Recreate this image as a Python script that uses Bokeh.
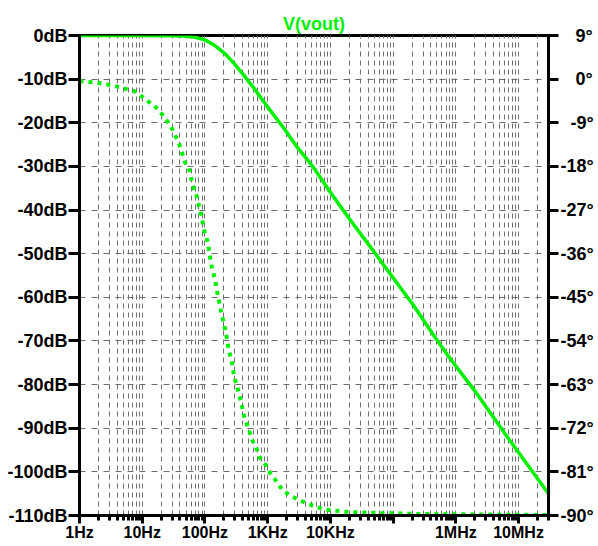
from bokeh.plotting import figure
from bokeh.models import Range1d, LinearAxis, FixedTicker, CustomJSTickFormatter
from bokeh.embed import file_html
from bokeh.resources import INLINE

# ---- data ----
freq_mag = [1, 10, 30, 50, 70, 100, 140, 180, 220, 290, 400, 600, 1000, 1800, 3000,
            5100, 11400, 21000, 43700, 63000, 215000, 447000, 826000, 1430000,
            1950000, 6620000, 30000000]
mag_db = [0, 0, -0.05, -0.15, -0.4, -1.0, -2.2, -3.4, -4.5, -6.4, -8.8, -12.0, -16.4,
          -21.2, -25.7, -29.8, -37.1, -42.4, -48.5, -51.6, -62.0, -68.8, -74.2,
          -78.7, -81.2, -92.0, -105.0]

freq_ph = [1, 1.46, 2.03, 2.76, 3.89, 5.4, 7.5, 10.2, 13.6, 18, 22, 28.3, 33, 38.4,
           43.4, 47.8, 56.8, 61, 66.5, 75.3, 80, 88.3, 92.7, 99.8, 111, 117, 123,
           131, 144, 151, 162, 173, 184, 200, 215, 227, 241, 262, 279, 293, 327,
           352, 384, 408, 454, 507, 566, 665, 751, 948, 1112, 1387, 1703, 2234,
           3147, 4375, 6165, 8380, 12100, 16400, 23400, 63000, 300000, 3000000,
           30000000]
phase_deg = [-0.4, -0.6, -0.8, -1.1, -1.5, -2.0, -2.5, -3.7, -5.0, -6.2, -7.7, -9.6,
             -11.4, -13.2, -15.3, -17.1, -18.8, -20.8, -22.6, -24.4, -26.1, -28.1,
             -29.8, -31.8, -33.6, -35.5, -37.4, -39.3, -41.1, -42.9, -44.8, -46.7,
             -48.5, -50.3, -52.2, -54.0, -56.0, -57.7, -59.6, -61.5, -63.4, -65.2,
             -67.0, -68.9, -70.8, -72.5, -74.4, -76.2, -78.1, -79.7, -81.4, -83.0,
             -84.7, -85.8, -86.8, -87.6, -88.3, -88.8, -89.0, -89.2, -89.3, -89.5,
             -89.7, -89.8, -89.9]

x_ticks = [1, 10, 100, 1e3, 1e4, 1e5, 1e6, 1e7]
x_tick_labels = ["1Hz", "10Hz", "100Hz", "1KHz", "10KHz", "", "1MHz", "10MHz"]
x_minor = [m * d for d in x_ticks for m in range(2, 10) if m * d <= 3e7]
db_ticks = [0, -10, -20, -30, -40, -50, -60, -70, -80, -90, -100, -110]
phase_ticks = [9, 0, -9, -18, -27, -36, -45, -54, -63, -72, -81, -90]

GREEN = "#00f000"
FONT = "Liberation Sans"

p = figure(width=598, height=546, x_axis_type="log",
           x_range=Range1d(1, 3e7), y_range=Range1d(-110, 0),
           output_backend="svg", toolbar_location=None,
           min_border_left=79, min_border_right=50, min_border_top=35,
           min_border_bottom=31, title="V(vout)")
p.extra_y_ranges = {"phase": Range1d(-90, 9)}

p.background_fill_color = "white"
p.border_fill_color = "white"
p.outline_line_color = "black"
p.outline_line_width = 3

p.title.align = "center"
p.title.text_color = GREEN
p.title.text_font = FONT
p.title.text_font_size = "18px"
p.title.text_font_style = "bold"
p.title.standoff = 4
p.title.offset = 0

# x axis
xa = p.xaxis[0]
xa.ticker = FixedTicker(ticks=x_ticks, minor_ticks=x_minor)
xa.formatter = CustomJSTickFormatter(args=dict(v=x_ticks, l=x_tick_labels), code="""
const i = v.findIndex(t => Math.abs(Math.log10(t) - Math.log10(tick)) < 1e-6);
return i >= 0 ? l[i] : "";
""")
xa.major_tick_out = 8
xa.major_tick_in = 0
xa.minor_tick_out = 5
xa.minor_tick_in = 0
xa.major_tick_line_width = 3
xa.minor_tick_line_width = 3
xa.axis_line_width = 3
xa.major_label_standoff = 0
xa.major_label_text_font = FONT
xa.major_label_text_font_style = "bold"
xa.major_label_text_font_size = "16px"
xa.major_label_text_color = "black"

# left axis
ya = p.yaxis[0]
ya.ticker = FixedTicker(ticks=db_ticks)
ya.formatter = CustomJSTickFormatter(code="return tick + 'dB';")
ya.major_tick_out = 11
ya.major_tick_in = 0
ya.minor_tick_out = 0
ya.minor_tick_in = 0
ya.major_tick_line_width = 3
ya.axis_line_width = 3
ya.major_label_standoff = 1
ya.major_label_text_font = FONT
ya.major_label_text_font_style = "bold"
ya.major_label_text_font_size = "18px"
ya.major_label_text_color = "black"

# right axis (phase); labels padded with figure spaces so they line up on the right
ra = LinearAxis(y_range_name="phase")
ra.ticker = FixedTicker(ticks=phase_ticks)
ra.formatter = CustomJSTickFormatter(code="""
let s = tick + '\u00b0';
if (tick >= 0) { s = '\u2007\u2008' + s; }
else if (tick > -10) { s = '\u2007' + s; }
return s;
""")
ra.major_tick_out = 10
ra.major_tick_in = 0
ra.minor_tick_out = 0
ra.minor_tick_in = 0
ra.major_tick_line_width = 3
ra.axis_line_width = 3
ra.major_label_standoff = 2
ra.major_label_text_font = FONT
ra.major_label_text_font_style = "bold"
ra.major_label_text_font_size = "18px"
ra.major_label_text_color = "black"
p.add_layout(ra, "right")

# grids
p.xgrid.grid_line_color = "#6e6e6e"
p.xgrid.grid_line_dash = "5 4"
p.xgrid.grid_line_width = 1
p.xgrid.minor_grid_line_color = "#6e6e6e"
p.xgrid.minor_grid_line_dash = "5 4"
p.xgrid.minor_grid_line_width = 1
p.ygrid.grid_line_color = "#6e6e6e"
p.ygrid.grid_line_dash = "6 6"
p.ygrid.grid_line_width = 1

# curves
p.line(freq_ph, phase_deg, y_range_name="phase", line_color=GREEN,
       line_width=4, line_dash="4 5")
p.line(freq_mag, mag_db, line_color=GREEN, line_width=3.5)

open("out.html", "w").write(file_html(p, INLINE))
